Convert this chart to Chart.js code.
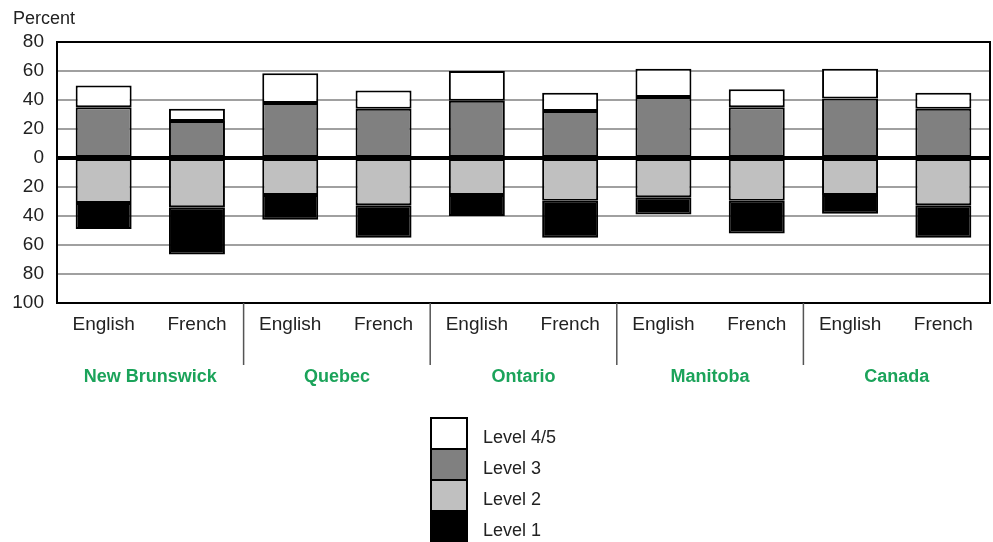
<!DOCTYPE html>
<html>
<head>
<meta charset="utf-8">
<script src="https://cdn.jsdelivr.net/npm/chart.js@4.4.1/dist/chart.umd.min.js"></script>
<style>
  html, body { margin: 0; padding: 0; background: #fff; }
  #wrap { position: relative; width: 993px; height: 542px; }
</style>
</head>
<body>
<div id="wrap"><canvas id="grafica" width="993" height="542"></canvas></div>
<script>
// Datos (porcentajes por nivel)
const idiomas = ["English", "French", "English", "French", "English", "French", "English", "French", "English", "French"];
const provincias = ["New Brunswick", "Quebec", "Ontario", "Manitoba", "Canada"];
const nivel3 = [35, 25.5, 38, 34, 39.5, 32.5, 42, 35, 41, 34];
const nivel45 = [15, 8.5, 20.5, 12.5, 20.5, 12.5, 19.5, 12.5, 20.5, 11];
const nivel2 = [31, 34, 25.5, 32.5, 25.5, 29.5, 27, 29.5, 25.5, 32.5];
const nivel1 = [18, 32.5, 17, 22.5, 14.5, 25.5, 12, 22.5, 13, 22.5];
const etiquetasNivel = ["Level 4/5", "Level 3", "Level 2", "Level 1"];

const fuente = "'Liberation Sans', Arial, sans-serif";
const verde = "#1ba35a";

// Leyenda, separadores, nombres de provincia, marco y línea del cero
const extras = {
  id: "extras",
  afterDatasetsDraw(chart) {
    const { ctx, chartArea: a, scales } = chart;
    const y0 = scales.y.getPixelForValue(0);
    ctx.save();
    ctx.strokeStyle = "#000";
    ctx.lineWidth = 4;
    ctx.beginPath();
    ctx.moveTo(a.left, y0);
    ctx.lineTo(a.right, y0);
    ctx.stroke();
    ctx.lineWidth = 2;
    ctx.strokeRect(a.left, a.top, a.right - a.left, a.bottom - a.top);
    ctx.restore();
  },
  afterDraw(chart) {
    const { ctx, chartArea: a, scales } = chart;
    const x = scales.x;
    ctx.save();
    // separadores entre provincias
    ctx.strokeStyle = "#555";
    ctx.lineWidth = 1.5;
    for (let i = 1; i < idiomas.length - 1; i += 2) {
      const sx = (x.getPixelForTick(i) + x.getPixelForTick(i + 1)) / 2;
      ctx.beginPath();
      ctx.moveTo(sx, a.bottom);
      ctx.lineTo(sx, a.bottom + 62);
      ctx.stroke();
    }
    // nombres de provincia
    ctx.fillStyle = verde;
    ctx.font = "bold 18px " + fuente;
    ctx.textAlign = "center";
    ctx.textBaseline = "middle";
    provincias.forEach((p, k) => {
      const cx = (x.getPixelForTick(2 * k) + x.getPixelForTick(2 * k + 1)) / 2;
      ctx.fillText(p, cx, 377);
    });
    // "Percent"
    ctx.fillStyle = "#222";
    ctx.font = "18px " + fuente;
    ctx.textAlign = "left";
    ctx.fillText("Percent", 13, 19);
    // leyenda
    const orden = [1, 0, 2, 3];
    const bx = 431, by = 418, bw = 36, bh = 31;
    ctx.font = "18px " + fuente;
    orden.forEach((d, k) => {
      const ds = chart.data.datasets[d];
      ctx.fillStyle = ds.backgroundColor;
      ctx.fillRect(bx, by + k * bh, bw, bh);
      ctx.strokeStyle = "#000";
      ctx.lineWidth = 2;
      ctx.strokeRect(bx, by + k * bh, bw, bh);
      ctx.fillStyle = "#222";
      ctx.fillText(ds.label, 483, by + k * bh + bh / 2 + 5);
    });
    ctx.restore();
  }
};

const ctx = document.getElementById("grafica").getContext("2d");
window.miGrafica = new Chart(ctx, {
  type: "bar",
  data: {
    labels: idiomas,
    datasets: [
      { label: etiquetasNivel[1], data: nivel3, backgroundColor: "#808080" },
      { label: etiquetasNivel[0], data: nivel45, backgroundColor: "#ffffff" },
      { label: etiquetasNivel[2], data: nivel2.map(v => -v), backgroundColor: "#c0c0c0" },
      { label: etiquetasNivel[3], data: nivel1.map(v => -v), backgroundColor: "#000000" }
    ].map(ds => ({
      ...ds,
      borderColor: "#000",
      borderWidth: 2,
      borderSkipped: false,
      barPercentage: 0.6,
      categoryPercentage: 1
    }))
  },
  options: {
    responsive: false,
    animation: false,
    layout: { padding: { top: 42, right: 3, bottom: 0, left: 0 } },
    plugins: { legend: { display: false }, tooltip: { enabled: false } },
    scales: {
      x: {
        stacked: true,
        grid: { display: false, drawTicks: false },
        border: { display: false },
        ticks: { color: "#222", font: { family: fuente, size: 19 }, padding: 10, maxRotation: 0 },
        afterFit: s => { s.height = 239; }
      },
      y: {
        stacked: true,
        min: -100,
        max: 80,
        border: { display: false },
        grid: {
          drawTicks: false,
          color: c => (c.tick.value === 0 ? "#000" : "#a0a0a0"),
          lineWidth: 2
        },
        ticks: {
          stepSize: 20,
          color: "#222",
          font: { family: fuente, size: 19 },
          padding: 13,
          callback: v => Math.abs(v)
        },
        afterFit: s => { s.width = 57; }
      }
    }
  },
  plugins: [extras]
});
</script>
</body>
</html>
